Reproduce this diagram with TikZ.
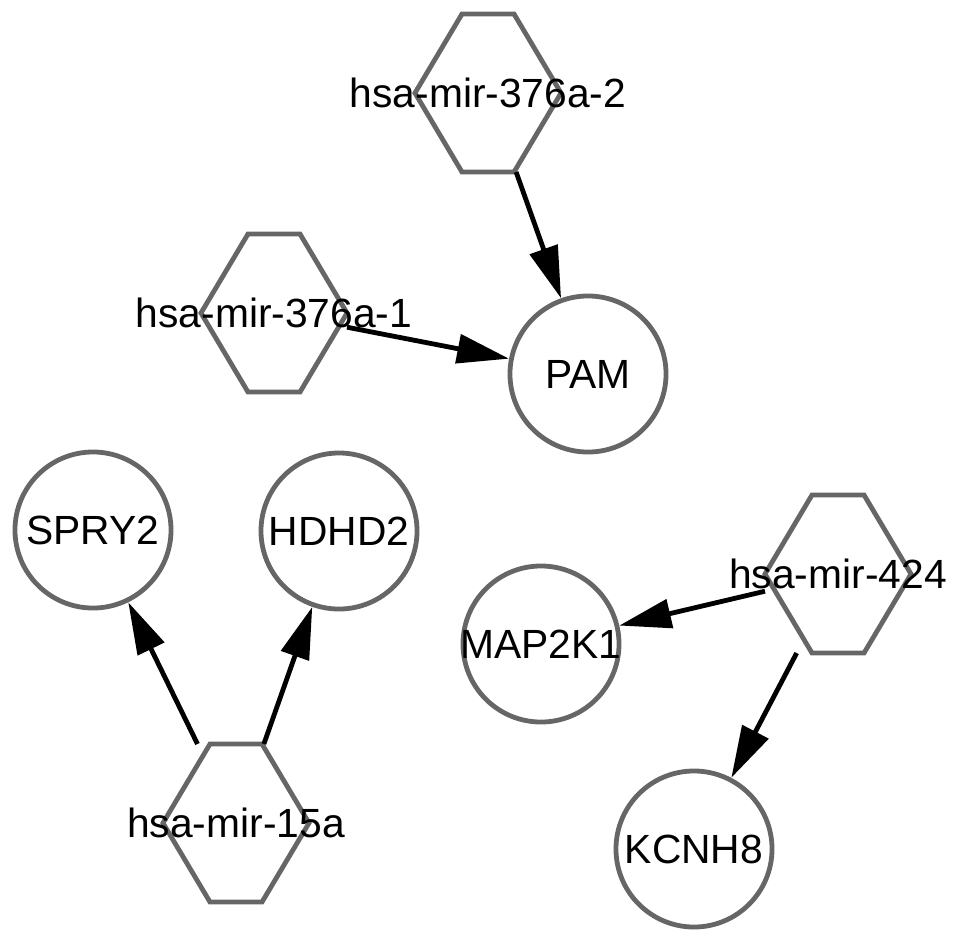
\documentclass[tikz,border=0pt]{standalone}
\usepackage{fontspec}
\setmainfont{Liberation Sans}
\usepackage[HTML]{xcolor}
\usetikzlibrary{arrows.meta}
\definecolor{nodegray}{HTML}{666666}

\begin{document}
\begin{tikzpicture}[x=0.025cm, y=-0.025cm,
  gene/.style={circle, draw=nodegray, line width=0.12cm, minimum size=3.9cm, inner sep=0pt},
  mirna/.style={rectangle, inner sep=0pt, outer sep=0pt, minimum width=3.65cm, minimum height=3.95cm},
  lbl/.style={font=\fontsize{29pt}{34pt}\selectfont, inner sep=0pt},
  link/.style={line width=0.12cm, -{Triangle[length=1.3cm, width=0.72cm]}}]

\useasboundingbox (0,0) rectangle (970,943);

% miRNA hexagons
\node[mirna] (M3762) at (488,93) {};
\node[mirna] (M3761) at (274,313) {};
\node[mirna] (M424) at (838,574) {};
\node[mirna] (M15a) at (236,823) {};

\def\halftop{0.65cm}
\foreach \h in {M3762, M3761, M424, M15a}
  \draw[nodegray, line width=0.12cm] ([xshift=-\halftop]\h.north) -- ([xshift=\halftop]\h.north) -- (\h.east) -- ([xshift=\halftop]\h.south) -- ([xshift=-\halftop]\h.south) -- (\h.west) -- cycle;

% target genes
\node[gene] (PAM) at (588,374) {};
\node[gene] (SPRY2) at (93,530) {};
\node[gene] (HDHD2) at (339,531) {};
\node[gene] (MAP2K1) at (541,644) {};
\node[gene] (KCNH8) at (694,849) {};

\foreach \n/\t in {M3762/hsa-mir-376a-2, M3761/hsa-mir-376a-1, M424/hsa-mir-424, M15a/hsa-mir-15a,
  PAM/PAM, SPRY2/SPRY2, HDHD2/HDHD2, MAP2K1/MAP2K1, KCNH8/KCNH8}
  \node[lbl] (\n-lbl) at (\n) {\t};

\draw[link] (M3762) -- (PAM);
\draw[link] (M3761) -- (PAM);
\draw[link] (M15a) -- (SPRY2);
\draw[link] (M15a) -- (HDHD2);
\draw[link] (M424) -- (MAP2K1);
\draw[link] (M424) -- (KCNH8);
\end{tikzpicture}
\end{document}
